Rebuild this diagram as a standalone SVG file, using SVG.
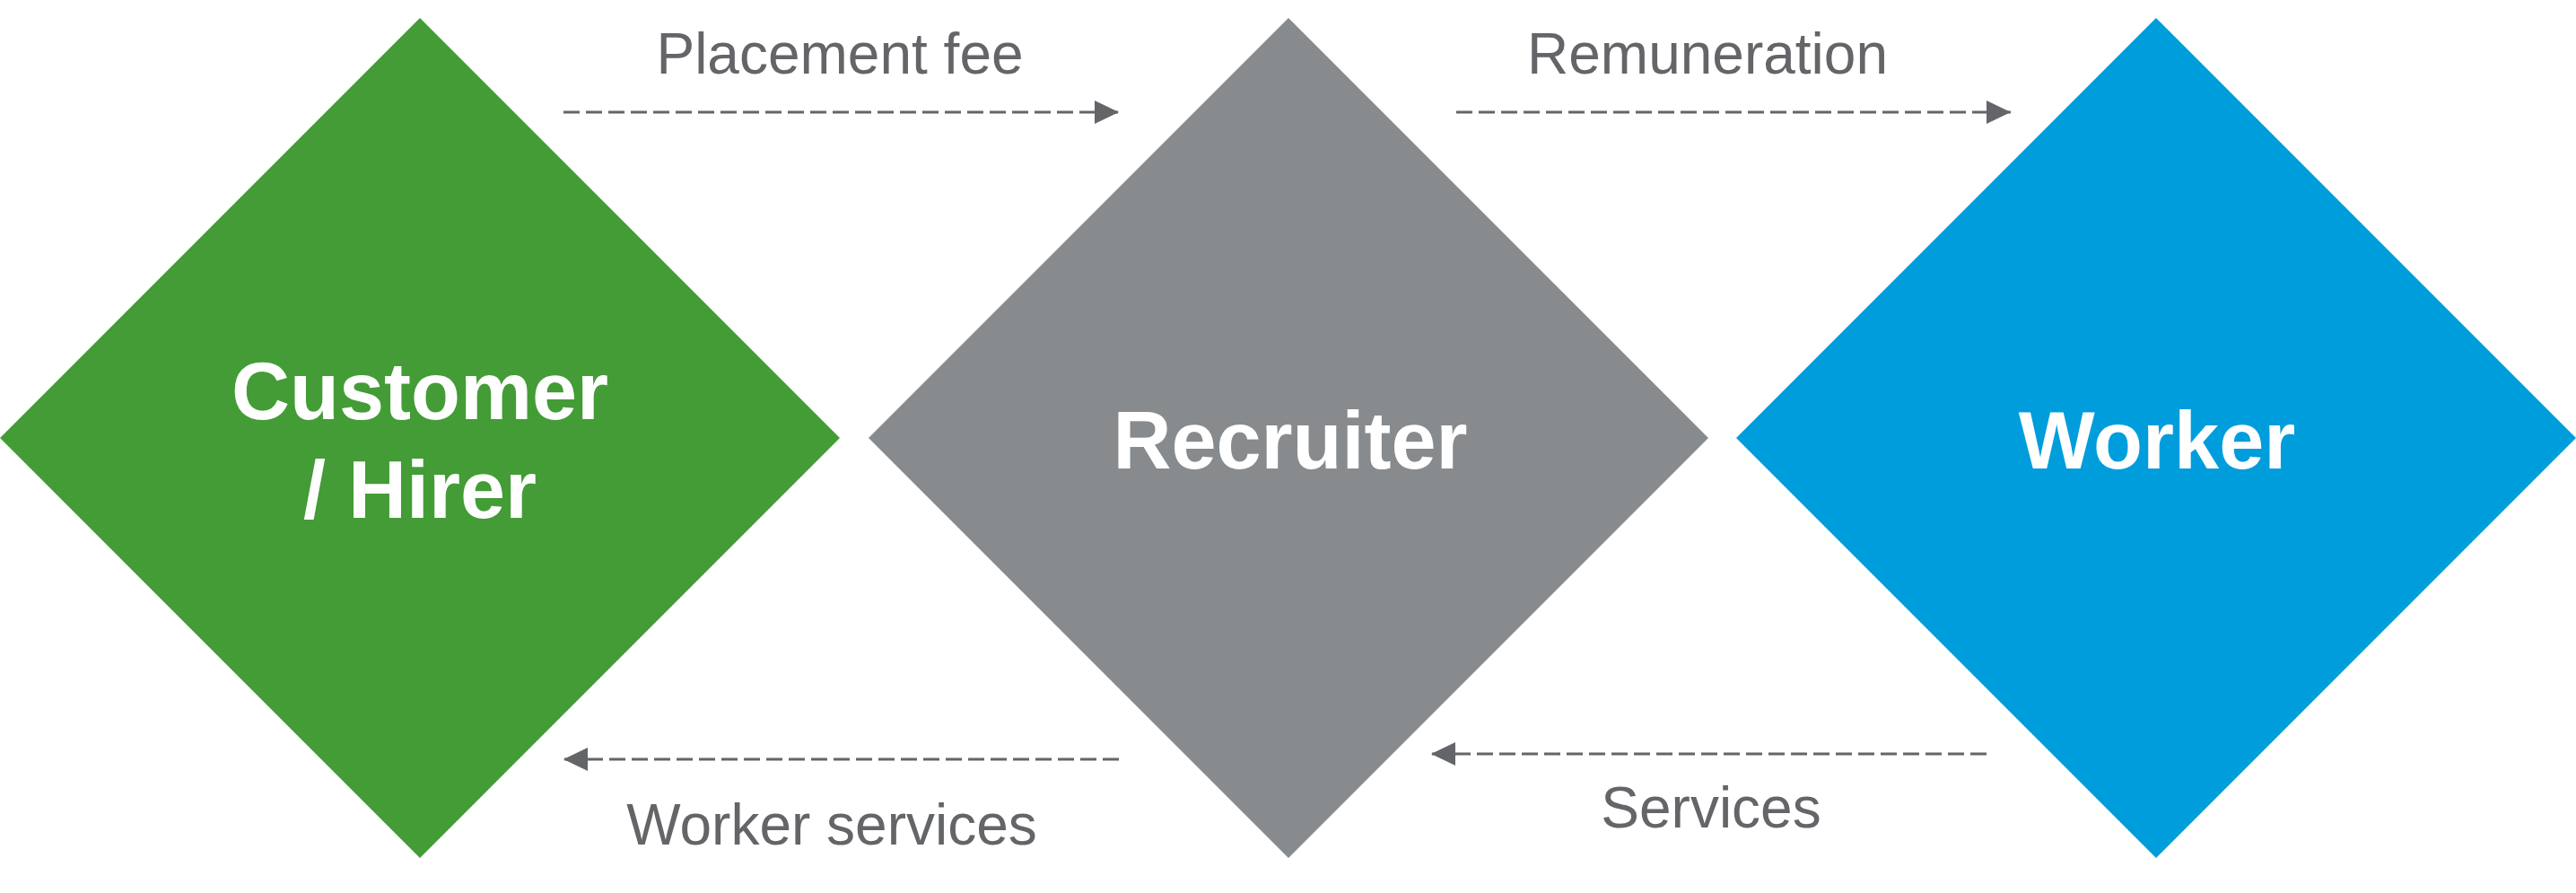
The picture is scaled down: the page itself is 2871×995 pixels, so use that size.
<svg xmlns="http://www.w3.org/2000/svg" width="2871" height="995" viewBox="0 0 2871 995">
  <style>
    .node-label { font-family: "Liberation Sans", Arial, sans-serif; font-weight: bold; font-size: 90px; fill: #FFFFFF; text-anchor: middle; }
    .edge-label { font-family: "Liberation Sans", Arial, sans-serif; font-size: 64px; fill: #646569; text-anchor: middle; }
    .edge { fill: none; stroke: #646569; stroke-width: 3; stroke-dasharray: 18 7; }
  </style>
  <defs>
    <marker id="arrow" viewBox="0 0 27 26" refX="27" refY="13" markerWidth="27" markerHeight="26" markerUnits="userSpaceOnUse" orient="auto">
      <path d="M0,0 L27,13 L0,26 Z" fill="#646569"/>
    </marker>
  </defs>
  <rect width="2871" height="995" fill="#FFFFFF"/>

  <g id="customer">
    <path d="M468,20 L936,488 L468,956 L0,488 Z" fill="#439C36"/>
    <text class="node-label" x="468" y="467">Customer</text>
    <text class="node-label" x="468" y="577">/ Hirer</text>
  </g>

  <g id="recruiter">
    <path d="M1436,20 L1904,488 L1436,956 L968,488 Z" fill="#888B8D"/>
    <text class="node-label" x="1438" y="522">Recruiter</text>
  </g>

  <g id="worker">
    <path d="M2403,20 L2871,488 L2403,956 L1935,488 Z" fill="#009DDC"/>
    <text class="node-label" x="2404" y="522">Worker</text>
  </g>

  <g id="connectors">
    <path class="edge" d="M628,125 L1247,125" marker-end="url(#arrow)"/>
    <text class="edge-label" x="936" y="82">Placement fee</text>
    <path class="edge" d="M1623,125 L2241,125" marker-end="url(#arrow)"/>
    <text class="edge-label" x="1903" y="82">Remuneration</text>
    <path class="edge" d="M1247,846 L628,846" marker-end="url(#arrow)"/>
    <text class="edge-label" x="927" y="941">Worker services</text>
    <path class="edge" d="M2214,840 L1595,840" marker-end="url(#arrow)"/>
    <text class="edge-label" x="1907" y="922">Services</text>
  </g>
</svg>
